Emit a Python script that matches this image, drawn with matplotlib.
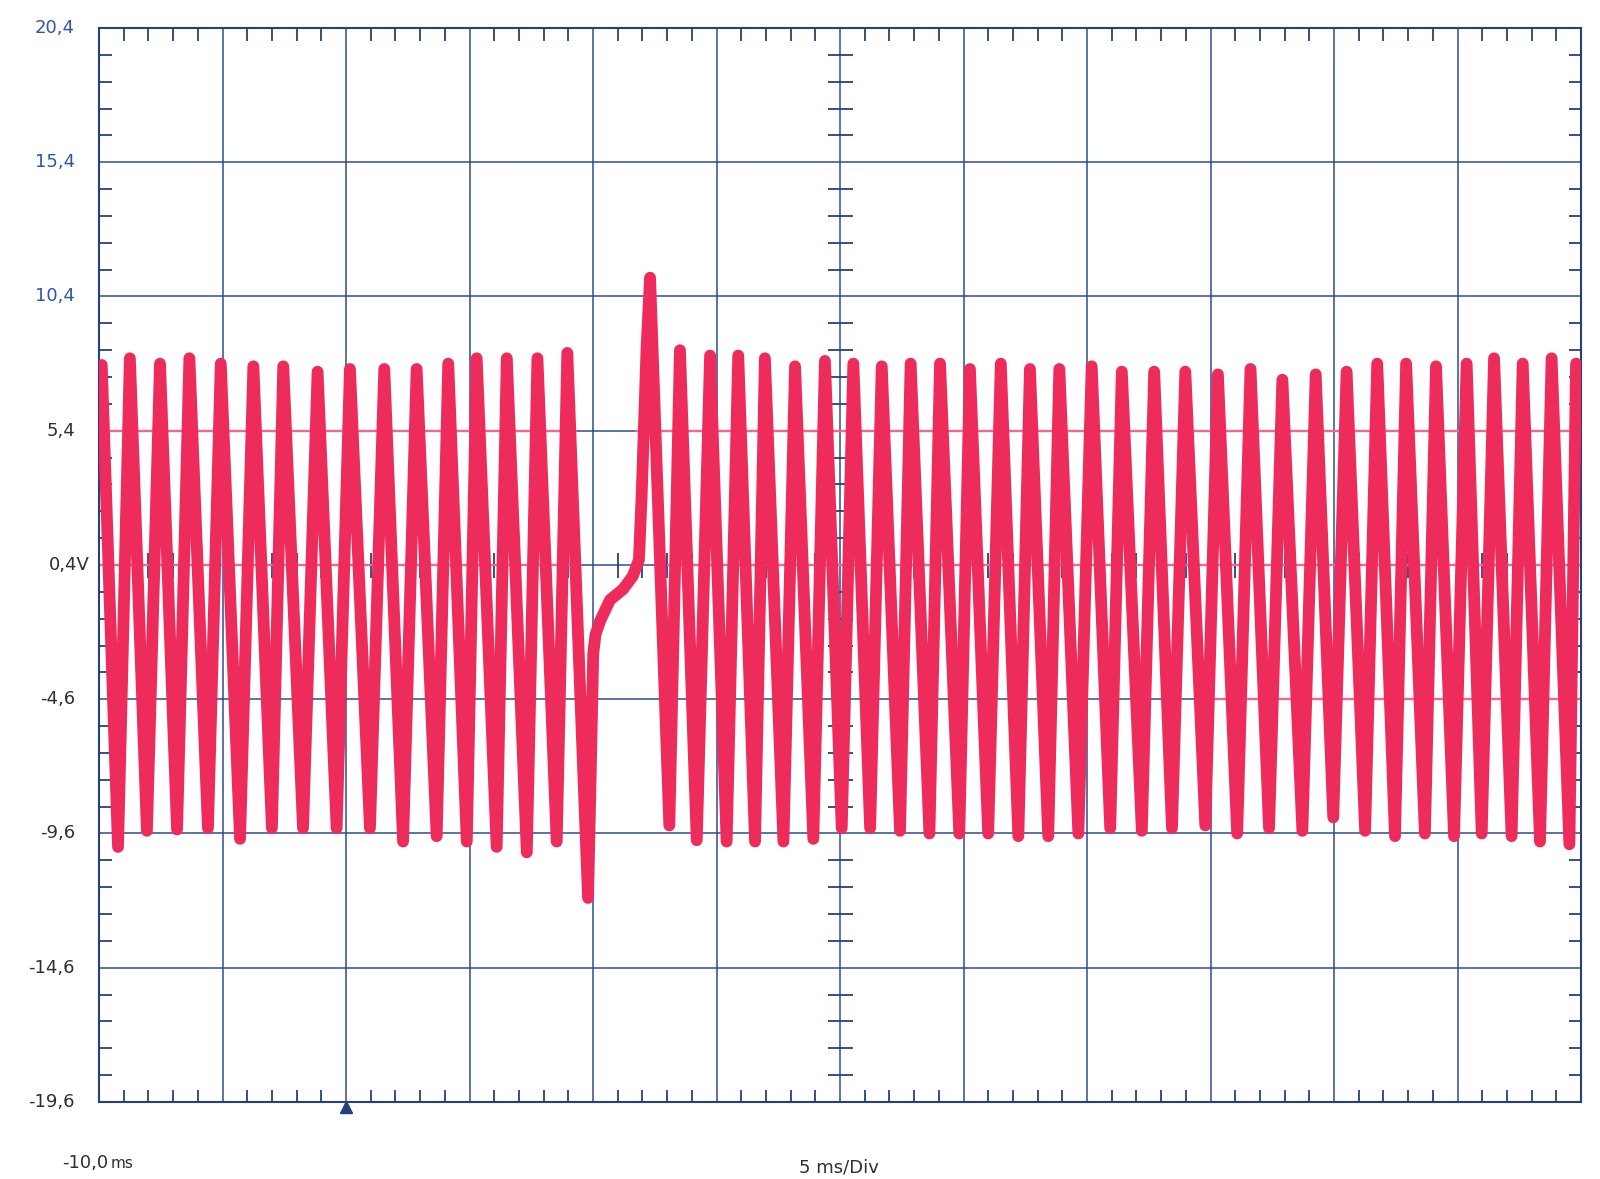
import numpy as np
import matplotlib.pyplot as plt
from matplotlib.ticker import FixedLocator

# screen: -10 ms start, 5 ms/div, 12 div; 5 V/div, 8 div
x_lo, x_hi = -10.0, 50.0
y_lo, y_hi = -19.6, 20.4

y_labels = ["20,4", "15,4", "10,4", "5,4", "0,4V", "-4,6", "-9,6", "-14,6", "-19,6"]
y_label_vals = [20.4, 15.4, 10.4, 5.4, 0.4, -4.6, -9.6, -14.6, -19.6]

# tooth tips (ms, V)
peak_ms = [-9.89, -8.75, -7.53, -6.34, -5.07, -3.75, -2.54, -1.15, 0.16, 1.55,
           2.86, 4.14, 5.29, 6.51, 7.75, 8.96,
           13.52, 14.74, 15.88, 16.96, 18.18, 19.39, 20.54, 21.69, 22.86, 24.05,
           25.26, 26.51, 27.69, 28.88, 30.19, 31.41, 32.72, 33.98, 35.30, 36.62,
           37.91, 39.26, 40.51, 41.75, 42.92, 44.13, 45.37, 46.48, 47.64, 48.81,
           49.80]
peak_v = [7.85, 8.1, 7.9, 8.1, 7.9, 7.8, 7.8, 7.6, 7.7, 7.7,
          7.7, 7.9, 8.1, 8.1, 8.1, 8.3,
          8.4, 8.2, 8.2, 8.1, 7.8, 8.0, 7.9, 7.8, 7.9, 7.9,
          7.7, 7.9, 7.7, 7.7, 7.8, 7.6, 7.6, 7.6, 7.5, 7.7,
          7.3, 7.5, 7.6, 7.9, 7.9, 7.8, 7.9, 8.1, 7.9, 8.1,
          7.9]

trough_ms = [-9.23, -8.06, -6.84, -5.59, -4.29, -3.00, -1.74, -0.38, 0.97, 2.31,
             3.67, 4.89, 6.10, 7.32, 8.53,
             13.09, 14.20, 15.41, 16.56, 17.71, 18.92, 20.07, 21.22, 22.43, 23.62,
             24.83, 26.00, 27.22, 28.43, 29.65, 30.94, 32.22, 33.44, 34.79, 36.08,
             37.37, 38.72, 39.97, 41.26, 42.47, 43.68, 44.86, 45.98, 47.19, 48.34,
             49.53]
trough_v = [-10.1, -9.5, -9.45, -9.4, -9.8, -9.4, -9.4, -9.4, -9.4, -9.9,
            -9.7, -9.9, -10.1, -10.3, -9.9,
            -9.3, -9.85, -9.9, -9.9, -9.9, -9.8, -9.4, -9.4, -9.5, -9.6,
            -9.6, -9.6, -9.7, -9.7, -9.6, -9.4, -9.5, -9.4, -9.3, -9.6,
            -9.4, -9.5, -9.0, -9.5, -9.7, -9.6, -9.7, -9.6, -9.7, -9.9,
            -10.0]

# missing-tooth gap: deep dip, slow recovery, tall reference tooth
gap_ms = [9.80, 10.01, 10.10, 10.28, 10.69, 11.22, 11.62, 11.86, 11.97, 12.17, 12.31]
gap_v = [-12.0, -2.9, -2.2, -1.7, -0.9, -0.5, 0.0, 0.6, 3.0, 8.5, 11.1]

# grid lines that print in trace colour (V, from ms, to ms)
pink_lines = [(5.4, -10.0, 9.35), (5.4, 11.7, 50.0),
              (0.4, -10.0, 9.35), (0.4, 13.0, 50.0),
              (-4.6, 34.45, 50.0)]

trace_c = "#ee2c5c"
pink_c = "#f26a8a"
grid_c = "#2d4b94"
frame_c = "#26407f"
blue_txt = "#2e55a8"
dark_txt = "#2f2f2f"

t = np.concatenate([peak_ms, trough_ms, gap_ms])
v = np.concatenate([peak_v, trough_v, gap_v])
order = np.argsort(t)
t, v = t[order], v[order]

fig = plt.figure(figsize=(16, 11.79), dpi=100)
ax = fig.add_axes([99 / 1600, 77 / 1179, 1482 / 1600, 1074 / 1179])
ax.set_xlim(x_lo, x_hi)
ax.set_ylim(y_lo, y_hi)

major_x = np.arange(x_lo, x_hi + 0.1, 5.0)
minor_x = np.arange(x_lo, x_hi + 0.1, 1.0)
major_y = np.array(y_label_vals)
minor_y = np.arange(y_lo, y_hi + 0.1, 1.0)

ax.xaxis.set_major_locator(FixedLocator(major_x))
ax.yaxis.set_major_locator(FixedLocator(major_y))
ax.xaxis.set_minor_locator(FixedLocator(minor_x))
ax.yaxis.set_minor_locator(FixedLocator(minor_y))
ax.tick_params(which="major", length=0, labelbottom=False, labelleft=False)
ax.tick_params(which="minor", direction="in", length=9, width=1.3, color=frame_c,
               top=True, right=True, bottom=True, left=True)
ax.grid(which="major", color=grid_c, lw=1.1)
ax.set_axisbelow(True)
for s in ax.spines.values():
    s.set_color(frame_c)
    s.set_linewidth(1.5)

# cross ticks on the centre axes
cx = [x for x in minor_x if x not in major_x]
cy = [y for y in minor_y if not np.any(np.isclose(y, major_y))]
ax.plot(cx, [0.4] * len(cx), ls="none", marker="|", ms=18, mew=1.3, color=frame_c, zorder=1)
ax.plot([20.0] * len(cy), cy, ls="none", marker="_", ms=18, mew=1.3, color=frame_c, zorder=1)

for yv, a, b in pink_lines:
    ax.hlines(yv, a, b, color=pink_c, lw=1.7, zorder=1.2)

ax.plot(t, v, color=trace_c, lw=8.5, solid_joinstyle="round", solid_capstyle="round", zorder=3)

# trigger marker at 0 ms
ax.plot([0.0], [-19.8], marker="^", ms=8, color=frame_c, clip_on=False, zorder=4)

ytr = ax.get_yaxis_transform()
for lab, yv in zip(y_labels, y_label_vals):
    col = blue_txt if yv > 8 else dark_txt
    xpos = -0.0061 if lab.endswith("V") else -0.0162
    ax.text(xpos, yv, lab, transform=ytr, ha="right", va="center",
            fontsize=13, color=col)

fig.text(62 / 1600, 1 - 1163 / 1179, "-10,0", ha="left", va="center", fontsize=13, color=dark_txt)
fig.text(111 / 1600, 1 - 1164 / 1179, "ms", ha="left", va="center", fontsize=11, color=dark_txt)
fig.text(839 / 1600, 1 - 1168 / 1179, "5 ms/Div", ha="center", va="center", fontsize=13, color=dark_txt)

fig.savefig("out.png", dpi=100, facecolor="white")
